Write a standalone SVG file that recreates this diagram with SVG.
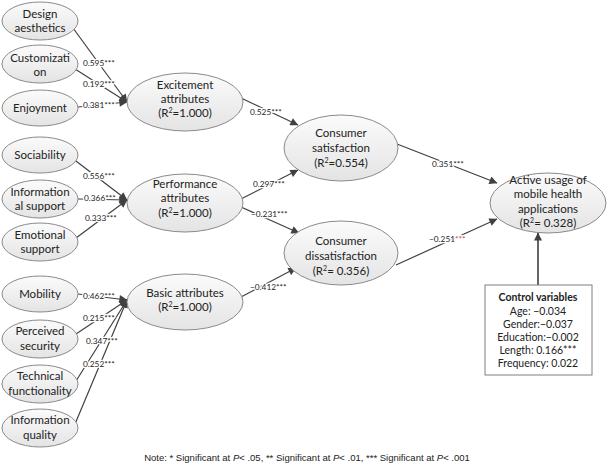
<svg xmlns="http://www.w3.org/2000/svg" width="612" height="469" viewBox="0 0 612 469">
<defs>
<linearGradient id="g" x1="0" y1="0" x2="0" y2="1">
<stop offset="0" stop-color="#fbfbfb"/>
<stop offset="1" stop-color="#e4e4e4"/>
</linearGradient>
<marker id="ah" viewBox="0 0 10 10" refX="9.5" refY="5" markerWidth="10" markerHeight="8" markerUnits="userSpaceOnUse" orient="auto">
<path d="M0,0 L10,5 L0,10 z" fill="#404040"/>
</marker>
</defs>
<style>
ellipse{fill:url(#g);stroke:#8a8a8a;stroke-width:1}
.t{font-family:Lato,"Open Sans",sans-serif;font-size:11.5px;fill:#222;text-anchor:middle}
.l{font-family:Lato,"Open Sans",sans-serif;font-size:8.3px;fill:#222;stroke:#fff;stroke-width:2.5px;paint-order:stroke;stroke-linejoin:round}
.c line{stroke:#404040;stroke-width:1.2;marker-end:url(#ah)}
.s{font-size:7px}
.b{font-family:Lato,"Open Sans",sans-serif;font-size:10.5px;fill:#222;text-anchor:middle}
</style>
<rect width="612" height="469" fill="#fff"/>
<g class="c" id="connectors">
<line x1="73" y1="28" x2="127" y2="102"/>
<line x1="75" y1="69" x2="127" y2="102"/>
<line x1="78" y1="107" x2="127" y2="102"/>
<line x1="72" y1="158" x2="127" y2="200"/>
<line x1="78" y1="199" x2="127" y2="200"/>
<line x1="76" y1="238" x2="127" y2="200"/>
<line x1="78" y1="294" x2="127" y2="300"/>
<line x1="73" y1="336" x2="127" y2="300"/>
<line x1="76" y1="381" x2="127" y2="300"/>
<line x1="75" y1="424" x2="127" y2="300"/>
<line x1="241" y1="98" x2="298" y2="125"/>
<line x1="241" y1="199" x2="298" y2="170"/>
<line x1="241" y1="207" x2="299" y2="233"/>
<line x1="241" y1="297" x2="296" y2="268"/>
<line x1="397" y1="144" x2="497" y2="183"/>
<line x1="396" y1="265" x2="497" y2="219"/>
<line x1="538" y1="285" x2="538" y2="233" style="stroke-width:1.8;stroke:#555"/>
<text class="l" x="83" y="66">0.595***</text>
<text class="l" x="83" y="87">0.192***</text>
<text class="l" x="83" y="108">0.381***</text>
<text class="l" x="83" y="179">0.556***</text>
<text class="l" x="84" y="201">0.366***</text>
<text class="l" x="85" y="221">0.333***</text>
<text class="l" x="83" y="299">0.462***</text>
<text class="l" x="83" y="321">0.215***</text>
<text class="l" x="86" y="344">0.347***</text>
<text class="l" x="83" y="367">0.252***</text>
<text class="l" x="250" y="115">0.525***</text>
<text class="l" x="253" y="187">0.297***</text>
<text class="l" x="251" y="217">−0.231***</text>
<text class="l" x="250" y="290">−0.412***</text>
<text class="l" x="432" y="167">0.351***</text>
<text class="l" x="429" y="242">−0.251<tspan fill="#c0504d">***</tspan></text>
</g>
<g id="design"><ellipse cx="40" cy="21" rx="38" ry="19"/><text class="t" x="40" y="18">Design</text><text class="t" x="40" y="32">aesthetics</text></g>
<g id="custom"><ellipse cx="40" cy="64" rx="38" ry="19"/><text class="t" x="40" y="62">Customizati</text><text class="t" x="40" y="76">on</text></g>
<g id="enjoy"><ellipse cx="40" cy="108" rx="38" ry="18"/><text class="t" x="40" y="112">Enjoyment</text></g>
<g id="social"><ellipse cx="40" cy="155" rx="38" ry="18"/><text class="t" x="40" y="159">Sociability</text></g>
<g id="infosup"><ellipse cx="40" cy="199" rx="38" ry="19"/><text class="t" x="40" y="196">Information</text><text class="t" x="40" y="210">al support</text></g>
<g id="emosup"><ellipse cx="40" cy="242" rx="38" ry="19"/><text class="t" x="40" y="239">Emotional</text><text class="t" x="40" y="253">support</text></g>
<g id="mobility"><ellipse cx="40" cy="294" rx="38" ry="18"/><text class="t" x="40" y="298">Mobility</text></g>
<g id="security"><ellipse cx="40" cy="339" rx="38" ry="19"/><text class="t" x="40" y="335">Perceived</text><text class="t" x="40" y="350">security</text></g>
<g id="technical"><ellipse cx="40" cy="384" rx="38" ry="19"/><text class="t" x="40" y="380">Technical</text><text class="t" x="40" y="395">functionality</text></g>
<g id="infoqual"><ellipse cx="40" cy="428" rx="38" ry="19"/><text class="t" x="40" y="424">Information</text><text class="t" x="40" y="439">quality</text></g>
<g id="excitement"><ellipse cx="185" cy="102" rx="58" ry="29"/><text class="t" x="185" y="89">Excitement</text><text class="t" x="185" y="103">attributes</text><text class="t" x="185" y="117">(R<tspan class="s" dy="-4">2</tspan><tspan dy="4">=1.000)</tspan></text></g>
<g id="performance"><ellipse cx="185" cy="203" rx="58" ry="29"/><text class="t" x="185" y="188">Performance</text><text class="t" x="185" y="202">attributes</text><text class="t" x="185" y="217">(R<tspan class="s" dy="-4">2</tspan><tspan dy="4">=1.000)</tspan></text></g>
<g id="basic"><ellipse cx="185" cy="302" rx="58" ry="28"/><text class="t" x="185" y="297">Basic attributes</text><text class="t" x="185" y="311">(R<tspan class="s" dy="-4">2</tspan><tspan dy="4">=1.000)</tspan></text></g>
<g id="satisfaction"><ellipse cx="341" cy="148" rx="57" ry="33"/><text class="t" x="341" y="137">Consumer</text><text class="t" x="341" y="152">satisfaction</text><text class="t" x="341" y="167">(R<tspan class="s" dy="-4">2</tspan><tspan dy="4">=0.554)</tspan></text></g>
<g id="dissatisfaction"><ellipse cx="341" cy="253" rx="57" ry="32"/><text class="t" x="341" y="245">Consumer</text><text class="t" x="341" y="260">dissatisfaction</text><text class="t" x="341" y="275">(R<tspan class="s" dy="-4">2</tspan><tspan dy="4">= 0.356)</tspan></text></g>
<g id="active"><ellipse cx="548" cy="203" rx="58" ry="30"/><text class="t" x="548" y="184">Active usage of</text><text class="t" x="548" y="198">mobile health</text><text class="t" x="548" y="213">applications</text><text class="t" x="548" y="227">(R<tspan class="s" dy="-4">2</tspan><tspan dy="4">= 0.328)</tspan></text></g>
<g id="control"><rect x="485" y="285" width="107" height="90" fill="#fff" stroke="#7f7f7f" stroke-width="1"/>
<text class="b" x="538" y="301" font-weight="bold">Control variables</text>
<text class="b" x="538" y="315">Age: −0.034</text>
<text class="b" x="538" y="328">Gender:−0.037</text>
<text class="b" x="538" y="341">Education:−0.002</text>
<text class="b" x="538" y="354">Length: 0.166***</text>
<text class="b" x="538" y="367">Frequency: 0.022</text></g>
<text x="307" y="461" font-family="Liberation Sans,Arial,sans-serif" font-size="9.5" fill="#222" text-anchor="middle">Note: * Significant at <tspan font-style="italic">P</tspan>&lt; .05, ** Significant at <tspan font-style="italic">P</tspan>&lt; .01, *** Significant at <tspan font-style="italic">P</tspan>&lt; .001</text>
</svg>
